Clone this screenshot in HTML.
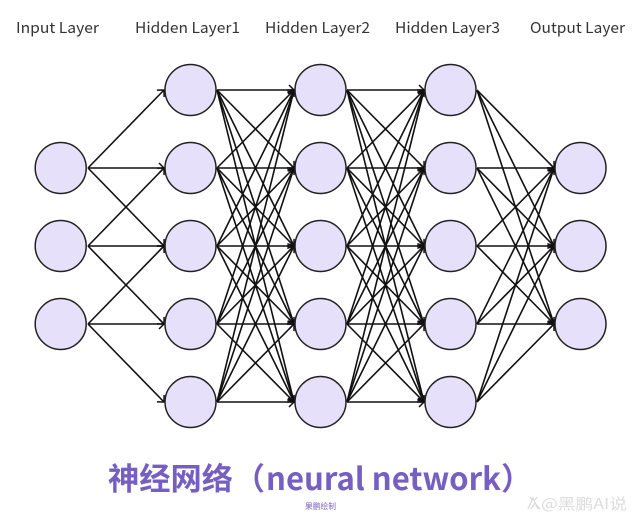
<!DOCTYPE html>
<html><head><meta charset="utf-8"><style>
html,body{margin:0;padding:0;background:#fff}
body{width:640px;height:526px;overflow:hidden}
svg{display:block;filter:blur(.35px)}
text{font-family:"Noto Sans CJK SC","Liberation Sans",sans-serif}
.l text{font-size:15px;fill:#333}
.t text{font-size:31px;font-weight:700;fill:#7560c2}
</style></head><body>
<svg width="640" height="526" viewBox="0 0 640 526" xmlns="http://www.w3.org/2000/svg">
<defs><marker id="a" markerUnits="userSpaceOnUse" markerWidth="14" markerHeight="14" refX="10" refY="7" orient="auto"><path d="M5 2Q8 5 10 7Q8 9 5 12" fill="none" stroke="#111" stroke-width="1.5"/></marker></defs>
<g class="l" text-anchor="middle">
<text x="57.5" y="33" textLength="83" lengthAdjust="spacingAndGlyphs">Input Layer</text><text x="187.5" y="33" textLength="105" lengthAdjust="spacingAndGlyphs">Hidden Layer1</text><text x="317.5" y="33" textLength="105" lengthAdjust="spacingAndGlyphs">Hidden Layer2</text><text x="447.5" y="33" textLength="105" lengthAdjust="spacingAndGlyphs">Hidden Layer3</text><text x="577.5" y="33" textLength="95" lengthAdjust="spacingAndGlyphs">Output Layer</text>
</g>
<g stroke="#111" stroke-width="1.6" fill="none" marker-end="url(#a)">
<line x1="88" y1="168" x2="164" y2="90"/><line x1="88" y1="168" x2="164" y2="168"/><line x1="88" y1="168" x2="164" y2="246"/>
<line x1="88" y1="246" x2="164" y2="168"/><line x1="88" y1="246" x2="164" y2="246"/><line x1="88" y1="246" x2="164" y2="324"/>
<line x1="88" y1="324" x2="164" y2="246"/><line x1="88" y1="324" x2="164" y2="324"/><line x1="88" y1="324" x2="164" y2="402"/>

<line x1="217" y1="90" x2="294" y2="90"/><line x1="217" y1="90" x2="294" y2="168"/><line x1="217" y1="90" x2="294" y2="246"/><line x1="217" y1="90" x2="294" y2="324"/><line x1="217" y1="90" x2="294" y2="402"/>
<line x1="217" y1="168" x2="294" y2="90"/><line x1="217" y1="168" x2="294" y2="168"/><line x1="217" y1="168" x2="294" y2="246"/><line x1="217" y1="168" x2="294" y2="324"/><line x1="217" y1="168" x2="294" y2="402"/>
<line x1="217" y1="246" x2="294" y2="90"/><line x1="217" y1="246" x2="294" y2="168"/><line x1="217" y1="246" x2="294" y2="246"/><line x1="217" y1="246" x2="294" y2="324"/><line x1="217" y1="246" x2="294" y2="402"/>
<line x1="217" y1="324" x2="294" y2="90"/><line x1="217" y1="324" x2="294" y2="168"/><line x1="217" y1="324" x2="294" y2="246"/><line x1="217" y1="324" x2="294" y2="324"/><line x1="217" y1="324" x2="294" y2="402"/>
<line x1="217" y1="402" x2="294" y2="90"/><line x1="217" y1="402" x2="294" y2="168"/><line x1="217" y1="402" x2="294" y2="246"/><line x1="217" y1="402" x2="294" y2="324"/><line x1="217" y1="402" x2="294" y2="402"/>

<line x1="347" y1="90" x2="424" y2="90"/><line x1="347" y1="90" x2="424" y2="168"/><line x1="347" y1="90" x2="424" y2="246"/><line x1="347" y1="90" x2="424" y2="324"/><line x1="347" y1="90" x2="424" y2="402"/>
<line x1="347" y1="168" x2="424" y2="90"/><line x1="347" y1="168" x2="424" y2="168"/><line x1="347" y1="168" x2="424" y2="246"/><line x1="347" y1="168" x2="424" y2="324"/><line x1="347" y1="168" x2="424" y2="402"/>
<line x1="347" y1="246" x2="424" y2="90"/><line x1="347" y1="246" x2="424" y2="168"/><line x1="347" y1="246" x2="424" y2="246"/><line x1="347" y1="246" x2="424" y2="324"/><line x1="347" y1="246" x2="424" y2="402"/>
<line x1="347" y1="324" x2="424" y2="90"/><line x1="347" y1="324" x2="424" y2="168"/><line x1="347" y1="324" x2="424" y2="246"/><line x1="347" y1="324" x2="424" y2="324"/><line x1="347" y1="324" x2="424" y2="402"/>
<line x1="347" y1="402" x2="424" y2="90"/><line x1="347" y1="402" x2="424" y2="168"/><line x1="347" y1="402" x2="424" y2="246"/><line x1="347" y1="402" x2="424" y2="324"/><line x1="347" y1="402" x2="424" y2="402"/>

<line x1="477" y1="90" x2="554" y2="168"/><line x1="477" y1="90" x2="554" y2="246"/><line x1="477" y1="90" x2="554" y2="324"/>
<line x1="477" y1="168" x2="554" y2="168"/><line x1="477" y1="168" x2="554" y2="246"/><line x1="477" y1="168" x2="554" y2="324"/>
<line x1="477" y1="246" x2="554" y2="168"/><line x1="477" y1="246" x2="554" y2="246"/><line x1="477" y1="246" x2="554" y2="324"/>
<line x1="477" y1="324" x2="554" y2="168"/><line x1="477" y1="324" x2="554" y2="246"/><line x1="477" y1="324" x2="554" y2="324"/>
<line x1="477" y1="402" x2="554" y2="168"/><line x1="477" y1="402" x2="554" y2="246"/><line x1="477" y1="402" x2="554" y2="324"/>
</g>
<g fill="#e6e0fa" stroke="#222" stroke-width="1.5">
<circle cx="60.7" cy="168" r="25.5"/><circle cx="60.7" cy="246" r="25.5"/><circle cx="60.7" cy="324" r="25.5"/>
<circle cx="190.5" cy="90" r="25.5"/><circle cx="190.5" cy="168" r="25.5"/><circle cx="190.5" cy="246" r="25.5"/><circle cx="190.5" cy="324" r="25.5"/><circle cx="190.5" cy="402" r="25.5"/>
<circle cx="320.5" cy="90" r="25.5"/><circle cx="320.5" cy="168" r="25.5"/><circle cx="320.5" cy="246" r="25.5"/><circle cx="320.5" cy="324" r="25.5"/><circle cx="320.5" cy="402" r="25.5"/>
<circle cx="450.5" cy="90" r="25.5"/><circle cx="450.5" cy="168" r="25.5"/><circle cx="450.5" cy="246" r="25.5"/><circle cx="450.5" cy="324" r="25.5"/><circle cx="450.5" cy="402" r="25.5"/>
<circle cx="580.5" cy="168" r="25.5"/><circle cx="580.5" cy="246" r="25.5"/><circle cx="580.5" cy="324" r="25.5"/>
</g>
<g class="t">
<text x="108" y="490" textLength="125" lengthAdjust="spacingAndGlyphs">神经网络</text>
<text x="234" y="490">（</text>
<text x="266" y="490" textLength="235" lengthAdjust="spacingAndGlyphs">neural network</text>
<text x="501" y="490">）</text>
</g>
<text x="305" y="509" style="font-size:8px" fill="#7a63c4" textLength="31" lengthAdjust="spacingAndGlyphs">果鹏绘制</text>
<path d="M528 509L533 498L538 509M531 509L535 503L540 509M530 497L532 500M537 497L535 500" fill="none" stroke="#dcdcdc" stroke-width="1.4"/>
<text x="541" y="509" style="font-size:15px" fill="#dcdcdc" textLength="86" lengthAdjust="spacingAndGlyphs">@黑鹏AI说</text>
</svg>
</body></html>
